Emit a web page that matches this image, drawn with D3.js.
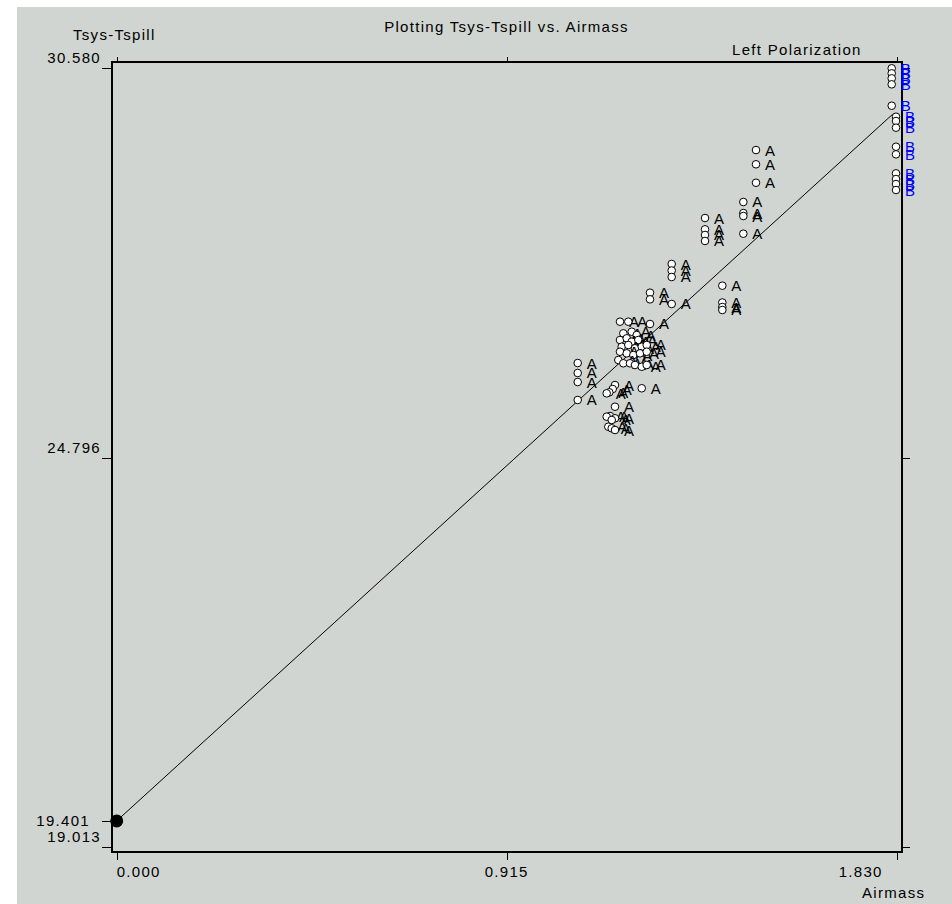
<!DOCTYPE html>
<html>
<head>
<meta charset="utf-8">
<script src="https://cdn.jsdelivr.net/npm/d3@7"></script>
<style>
  html, body { margin: 0; padding: 0; background: #ffffff; }
  svg { display: block; }
  text { font-family: "Liberation Sans", Arial, Helvetica, sans-serif; font-size: 15px; letter-spacing: 1.3px; fill: #000; }
</style>
</head>
<body>
<svg id="chart" width="952" height="904"></svg>
<script>
// Tsys-Tspill measurements, source A
const airmassA = [
  1.0816, 1.0816, 1.0816, 1.0816,
  1.1691, 1.1637, 1.1557, 1.1496, 1.2318,
  1.1691, 1.1574, 1.1496, 1.1691, 1.1614, 1.1534, 1.1614, 1.1691,
  1.1808, 1.2003, 1.2512,
  1.1886, 1.2083, 1.2200,
  1.1808, 1.1966, 1.2083, 1.2238,
  1.1848, 1.2003, 1.2160, 1.2318, 1.2435,
  1.1808, 1.1966, 1.2121, 1.2278, 1.2435,
  1.1769, 1.1886, 1.2043, 1.2160, 1.2318, 1.2435,
  1.2512, 1.2512, 1.3021,
  1.3021, 1.3021, 1.3021,
  1.3803, 1.3803, 1.3803, 1.3803,
  1.4209, 1.4209, 1.4209, 1.4209,
  1.4702, 1.4702, 1.4702, 1.4702,
  1.4999, 1.4999, 1.4999
];
const tsysA = [
  26.202, 26.054, 25.920, 25.653,
  25.875, 25.816, 25.767, 25.752, 25.827,
  25.553, 25.415, 25.405, 25.381, 25.356, 25.256, 25.232, 25.207,
  26.816, 26.816, 26.782,
  26.643, 26.667, 26.618,
  26.544, 26.569, 26.519, 26.544,
  26.444, 26.470, 26.421, 26.444, 26.470,
  26.370, 26.346, 26.321, 26.346, 26.370,
  26.247, 26.198, 26.198, 26.173, 26.147, 26.173,
  27.247, 27.148, 27.079,
  27.673, 27.576, 27.480,
  28.356, 28.188, 28.104, 28.015,
  27.351, 27.101, 27.034, 26.990,
  28.594, 28.430, 28.386, 28.123,
  29.366, 29.154, 28.880
];

// Tsys-Tspill measurements, source B
const airmassB = [
  1.8183, 1.8183, 1.8183, 1.8183, 1.8183,
  1.8284, 1.8284, 1.8284, 1.8284, 1.8284, 1.8284, 1.8284, 1.8284, 1.8284
];
const tsysB = [
  30.580, 30.505, 30.431, 30.342, 30.024,
  29.861, 29.797, 29.698, 29.415, 29.302, 29.020, 28.935, 28.861, 28.772
];

// Linear fit: intercept at zero airmass and slope
const fitIntercept = 19.401;
const fitSlope = 5.766;
const fitAirmassEnd = 1.82;

// Axis extents and tick labels
const xDomain = [0, 1.830];
const yDomain = [19.013, 30.580];
const xTicks = [0.000, 0.915, 1.830];
const yTicksLeft = [30.580, 24.796, 19.401, 19.013];
const yTicksRight = [30.580, 24.796, 19.013];

const titleText = "Plotting Tsys-Tspill vs. Airmass";
const subtitleText = "Left Polarization";
const yLabel = "Tsys-Tspill";
const xLabel = "Airmass";

const svg = d3.select("#chart");

// grey canvas
svg.append("rect").attr("x", 17).attr("y", 7).attr("width", 952 - 17).attr("height", 904 - 7)
  .attr("fill", "#d0d5d1");

const frame = { left: 112, right: 902, top: 62, bottom: 852 };

const x = d3.scaleLinear().domain(xDomain).range([116.7, 896.7]);
const y = d3.scaleLinear().domain(yDomain).range([847, 68.3]);

// frame
svg.append("rect")
  .attr("x", frame.left).attr("y", frame.top)
  .attr("width", frame.right - frame.left).attr("height", frame.bottom - frame.top)
  .attr("fill", "none").attr("stroke", "#000").attr("stroke-width", 2);

const fmt = d3.format(".3f");

// axes built from d3 axis generators, then styled
const axisLeft = d3.axisLeft(y).tickValues(yTicksLeft).tickSize(10).tickFormat("");
const axisRight = d3.axisRight(y).tickValues(yTicksRight).tickSize(8).tickFormat("");
const axisTop = d3.axisTop(x).tickValues(xTicks).tickSize(5).tickFormat("");
const axisBottom = d3.axisBottom(x).tickValues(xTicks).tickSize(8).tickFormat("");

function styleAxis(g) {
  g.select(".domain").remove();
  g.selectAll(".tick line").attr("stroke", "#000").attr("stroke-width", 1).attr("shape-rendering", "crispEdges");
}
svg.append("g").attr("transform", `translate(${frame.left},0)`).call(axisLeft).call(styleAxis);
svg.append("g").attr("transform", `translate(${frame.right},0)`).call(axisRight).call(styleAxis);
svg.append("g").attr("transform", `translate(0,${frame.top})`).call(axisTop).call(styleAxis);
svg.append("g").attr("transform", `translate(0,${frame.bottom})`).call(axisBottom).call(styleAxis);

// left tick labels; the fit intercept label sits centred on its tick, shifted left
svg.append("g").selectAll("text").data(yTicksLeft).join("text")
  .attr("text-anchor", "end")
  .attr("x", d => d === fitIntercept ? 90 : 101)
  .attr("y", d => d === fitIntercept ? y(d) + 5 : y(d) - 5)
  .text(d => fmt(d));

// bottom tick labels
svg.append("g").selectAll("text").data(xTicks).join("text")
  .attr("text-anchor", (d, i) => i === 0 ? "start" : (i === xTicks.length - 1 ? "end" : "middle"))
  .attr("x", (d, i) => i === 0 ? x(d) : (i === xTicks.length - 1 ? x(d) - 14 : x(d)))
  .attr("y", 877)
  .text(d => fmt(d));

// titles
svg.append("text").attr("x", 506.5).attr("y", 31.5).attr("text-anchor", "middle").text(titleText);
svg.append("text").attr("x", 732).attr("y", 55).text(subtitleText);
svg.append("text").attr("x", 73).attr("y", 40).text(yLabel);
svg.append("text").attr("x", 862).attr("y", 898).text(xLabel);

// fit line
svg.append("line")
  .attr("x1", x(0)).attr("y1", y(fitIntercept))
  .attr("x2", x(fitAirmassEnd)).attr("y2", y(fitIntercept + fitSlope * fitAirmassEnd))
  .attr("stroke", "#000").attr("stroke-width", 1);

// intercept marker
svg.append("circle").attr("cx", x(0)).attr("cy", y(fitIntercept)).attr("r", 6.5).attr("fill", "#000");

// data points with source letters
function drawSource(xs, ys, letter, color) {
  const pts = xs.map((a, i) => ({ a, t: ys[i] }));
  const g = svg.append("g").selectAll("g").data(pts).join("g");
  g.append("circle")
    .attr("cx", d => x(d.a)).attr("cy", d => y(d.t)).attr("r", 3.8)
    .attr("fill", "#fff").attr("stroke", "#000").attr("stroke-width", 1);
  g.append("text")
    .attr("x", d => x(d.a) + 9).attr("y", d => y(d.t) + 5.5)
    .attr("fill", color).style("fill", color).style("letter-spacing", "0px")
    .text(letter);
}
drawSource(airmassA, tsysA, "A", "#000000");
drawSource(airmassB, tsysB, "B", "#0000ff");
</script>
</body>
</html>
